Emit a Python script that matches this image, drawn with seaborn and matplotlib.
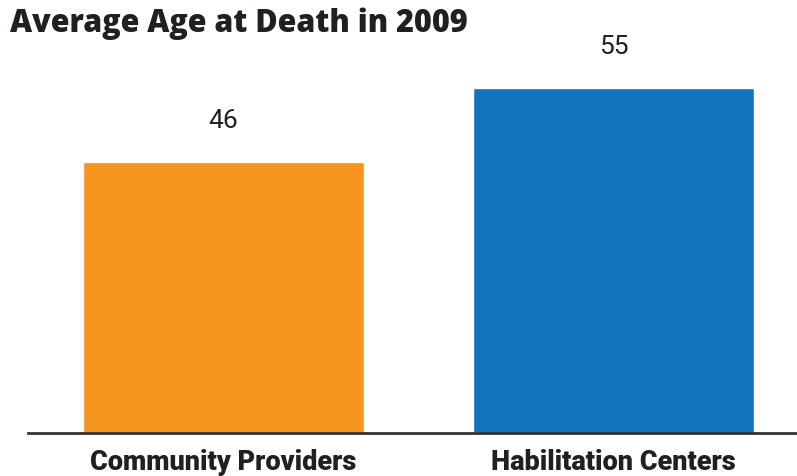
import matplotlib
matplotlib.use('Agg')
import matplotlib.pyplot as plt
import seaborn as sns
import pandas as pd

# ===============================
# Data
# ===============================
providers = ['Community Providers', 'Habilitation Centers']
avg_age = [46, 55]
bar_colors = ['#F7941E', '#1174BD']

df = pd.DataFrame({'provider': providers, 'age': avg_age})

# ===============================
# Plot
# ===============================
sns.set_style('white')
plt.rcParams['font.family'] = ['Roboto', 'DejaVu Sans']

fig = plt.figure(figsize=(7.97, 4.77), dpi=100)
ax = fig.add_axes([28 / 797, 43 / 477, 769 / 797, 403 / 477])

sns.barplot(data=df, x='provider', y='age', hue='provider',
            palette=bar_colors, width=0.72, saturation=1,
            legend=False, ax=ax)

ax.set_xlim(-0.501, 1.47)
ax.set_ylim(13, 62)

# value labels above the bars
for i, v in enumerate(avg_age):
    ax.annotate(str(v), (i, v), xytext=(0, 42), textcoords='offset pixels',
                ha='center', va='center', fontsize=19, fontweight='normal',
                color='#231F20')

ax.set_xlabel('')
ax.set_ylabel('')
ax.set_yticks([])
ax.tick_params(axis='x', length=0, pad=11)
for lbl in ax.get_xticklabels():
    lbl.set_fontsize(19.5)
    lbl.set_fontweight('heavy')
    lbl.set_color('#231F20')

for side in ['top', 'right', 'left']:
    ax.spines[side].set_visible(False)
ax.spines['bottom'].set_color('#333333')
ax.spines['bottom'].set_linewidth(2)

fig.text(10 / 797, 1 - 24 / 477, 'Average Age at Death in 2009',
         fontsize=22, fontweight='heavy', family=['Open Sans', 'DejaVu Sans'],
         color='#231F20', ha='left', va='center')

plt.savefig('out.png', dpi=100)
plt.close()
